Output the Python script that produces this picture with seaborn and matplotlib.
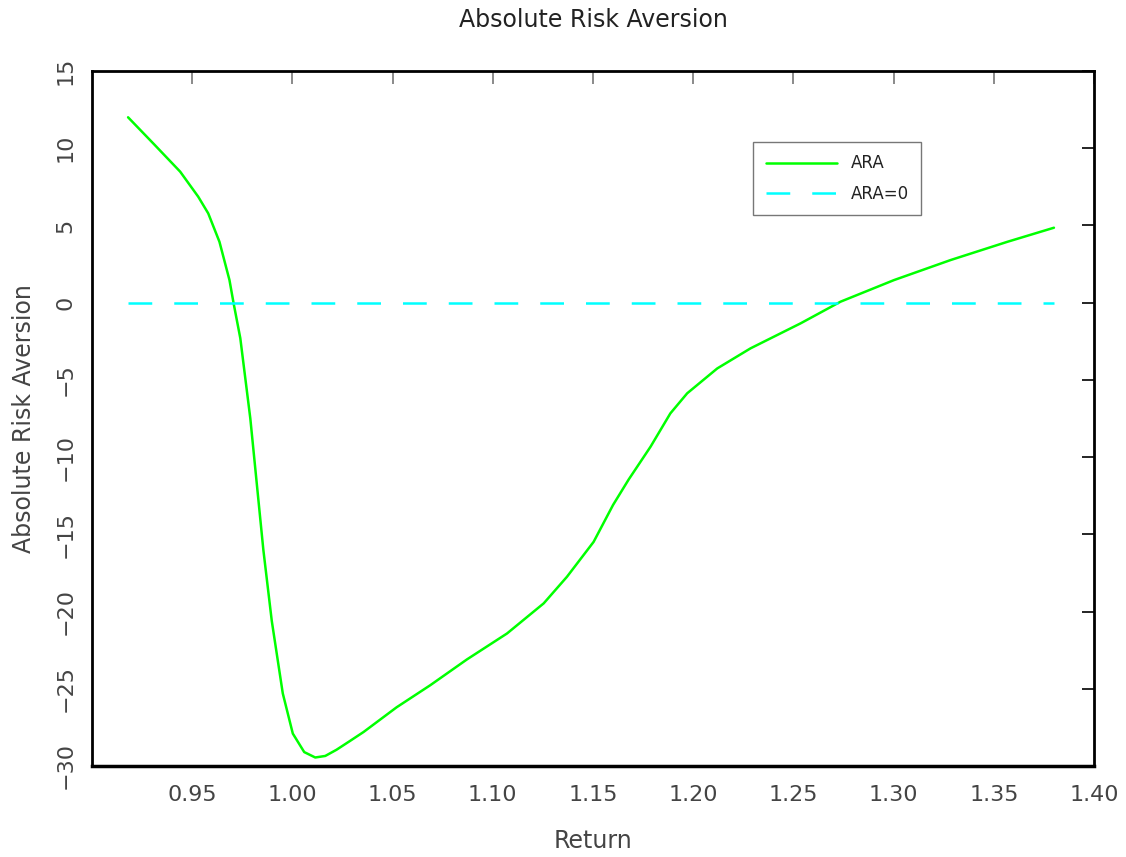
import matplotlib
matplotlib.use("Agg")
import matplotlib.pyplot as plt
import seaborn as sns

# curve
returns = [0.918, 0.931, 0.944, 0.953, 0.958, 0.9636, 0.9686, 0.9706, 0.974, 0.979,
           0.9855, 0.9897, 0.9952, 1.0002, 1.0059, 1.0114, 1.0164, 1.022, 1.0285, 1.0355,
           1.052, 1.0688, 1.0871, 1.1071, 1.1254, 1.137, 1.1503, 1.16, 1.1678, 1.1787,
           1.1886, 1.197, 1.212, 1.2286, 1.2536, 1.2735, 1.3002, 1.3285, 1.3568, 1.38]
ara = [12.0, 10.25, 8.48, 6.86, 5.78, 3.94, 1.46, 0.0, -2.3, -7.5,
       -16.0, -20.6, -25.3, -27.9, -29.1, -29.45, -29.35, -28.95, -28.4, -27.8,
       -26.2, -24.77, -23.1, -21.42, -19.47, -17.75, -15.49, -13.1, -11.45, -9.33,
       -7.17, -5.87, -4.26, -2.96, -1.34, 0.06, 1.46, 2.76, 3.94, 4.85]
zero_x = [0.918, 1.38]
zero_y = [0.0, 0.0]

xticks = [0.95, 1.00, 1.05, 1.10, 1.15, 1.20, 1.25, 1.30, 1.35, 1.40]
yticks = [-30, -25, -20, -15, -10, -5, 0, 5, 10, 15]

sns.set_style("white")
plt.rcParams["font.family"] = ["DejaVu Sans"]
plt.rcParams["axes.unicode_minus"] = True

fig = plt.figure(figsize=(11.26, 8.57), dpi=100)
ax = fig.add_axes([0.0817, 0.1062, 0.8899, 0.811])

sns.lineplot(x=returns, y=ara, ax=ax, color="#00ff00", lw=1.8, label="ARA",
             estimator=None, sort=False)
sns.lineplot(x=zero_x, y=zero_y, ax=ax, color="#00ffff", lw=1.8, label="ARA=0",
             estimator=None, dashes=False)
ax.lines[1].set_dashes((9.5, 8.8))

ax.set_xlim(0.9, 1.4)
ax.set_ylim(-30, 15)
ax.set_xticks(xticks)
ax.set_xticklabels([f"{v:.2f}" for v in xticks])
ax.set_yticks(yticks)
ax.set_yticklabels([str(v).replace("-", "\u2212") for v in yticks],
                   rotation=90, va="center")

for s in ax.spines.values():
    s.set_visible(True)
    s.set_color("black")
    s.set_linewidth(2)
ax.spines["bottom"].set_linewidth(2.5)

ax.tick_params(axis="both", direction="in", length=9, width=1.2,
               labelsize=16, labelcolor="#444444", top=True, right=True)
ax.tick_params(axis="x", colors="#777777", labelcolor="#444444", pad=14)
ax.tick_params(axis="y", colors="black", labelcolor="#444444", pad=12)

ax.set_title("Absolute Risk Aversion", fontsize=17, color="#222222", pad=32)
ax.set_xlabel("Return", fontsize=17, color="#444444", labelpad=17)
ax.set_ylabel("Absolute Risk Aversion", fontsize=17, color="#444444", labelpad=14)

leg = ax.legend(loc="upper left", bbox_to_anchor=(0.66, 0.898), fontsize=12,
                frameon=True, fancybox=False, handlelength=4.3,
                borderpad=0.75, labelspacing=0.75, borderaxespad=0)
leg.get_frame().set_edgecolor("#555555")
leg.get_frame().set_linewidth(1.0)
for t in leg.get_texts():
    t.set_color("#222222")

fig.savefig("out.png", dpi=100)
